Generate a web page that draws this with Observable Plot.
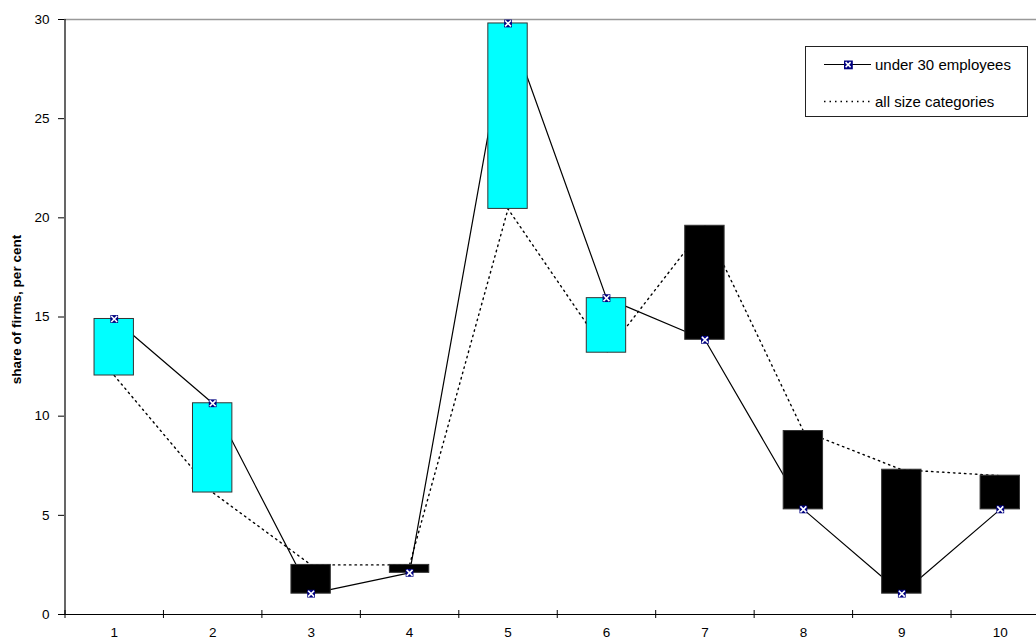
<!DOCTYPE html>
<html><head><meta charset="utf-8">
<script src="https://cdn.jsdelivr.net/npm/d3@7"></script>
<script src="https://cdn.jsdelivr.net/npm/@observablehq/plot@0.6"></script>
<style>
body{margin:0;background:#fff;}
#chart{position:relative;width:1036px;height:641px;overflow:hidden;}
#chart svg g[aria-label*="tick label"], #chart svg g[aria-label*="tick label"] text {
  font-size: 13.5px !important;
  font-family: 'Liberation Sans', Arial, sans-serif !important;
}
</style>
</head><body><div id="chart"></div>
<script>
const categories = [1, 2, 3, 4, 5, 6, 7, 8, 9, 10];
const under30 = [14.9, 10.65, 1.05, 2.1, 29.8, 15.95, 13.85, 5.3, 1.05, 5.3];
const allSizes = [12.05, 6.15, 2.5, 2.5, 20.45, 13.2, 19.6, 9.25, 7.3, 7.0];
const yTicks = [0, 5, 10, 15, 20, 25, 30];
const seriesLabels = ["under 30 employees", "all size categories"];
const yTitle = "share of firms, per cent";

const rows = categories.map((c, i) => ({cat: c, u30: under30[i], all: allSizes[i]}));
const boundaries = categories.map(c => c - 0.5).concat([categories[categories.length - 1] + 0.5]);
const font = "'Liberation Sans', Arial, sans-serif";

const plot = Plot.plot({
  width: 1036,
  height: 641,
  marginTop: 19,
  marginBottom: 27,
  marginLeft: 64,
  marginRight: 0,
  style: {fontFamily: font, fontSize: "13.5px", background: "#fff", color: "#000"},
  x: {type: "linear", domain: [boundaries[0], boundaries[boundaries.length - 1]], range: [64.5, 1049]},
  y: {domain: [0, 30], range: [614, 19]},
  color: {type: "identity"},
  marks: [
    Plot.ruleY([30], {stroke: "#999", strokeWidth: 1.5}),
    Plot.line(rows, {x: "cat", y: "all", stroke: "#000", strokeWidth: 1.4, strokeDasharray: "1.5,4"}),
    Plot.line(rows, {x: "cat", y: "u30", stroke: "#000", strokeWidth: 1.2}),
    Plot.rectY(rows, {
      x1: d => d.cat - 0.2, x2: d => d.cat + 0.2,
      y1: "all", y2: "u30",
      fill: d => d.u30 > d.all ? "#00ffff" : "#000000",
      stroke: "#333", strokeWidth: 1
    }),
    Plot.dot(rows, {x: "cat", y: "u30", symbol: "square", r: 4.4, fill: "#000080", stroke: "none"}),
    Plot.dot(rows, {x: "cat", y: "u30", symbol: "times", r: 2.8, stroke: "#fff", strokeWidth: 1.6}),
    Plot.ruleY([0], {stroke: "#000", strokeWidth: 1.2}),
    Plot.ruleX([boundaries[0]], {stroke: "#000", strokeWidth: 1.2}),
    Plot.axisY({ticks: yTicks, tickSize: 6, tickPadding: 9, label: null, fontSize: 13.5}),
    Plot.axisX({ticks: boundaries, tickSize: 8, dy: -4, tickFormat: () => "", label: null}),
    Plot.axisX({ticks: categories, tickSize: 0, tickPadding: 13, label: null, fontSize: 13.5, tickFormat: d => String(d)}),
    Plot.text([yTitle], {text: d => d, frameAnchor: "left", textAnchor: "middle", rotate: -90, dx: -47.5, dy: -7.5, fontWeight: "bold", fontSize: 13.5})
  ]
});
document.getElementById("chart").appendChild(plot);

// legend inside the plot area
const svg = d3.select(plot);
const lg = svg.append("g");
lg.append("rect").attr("x", 805.5).attr("y", 46.5).attr("width", 222).attr("height", 70)
  .attr("fill", "#fff").attr("stroke", "#222");
lg.append("line").attr("x1", 824).attr("x2", 871).attr("y1", 64.5).attr("y2", 64.5)
  .attr("stroke", "#000").attr("stroke-width", 1.2);
lg.append("rect").attr("x", 844).attr("y", 60.5).attr("width", 8.8).attr("height", 8.8).attr("fill", "#000080");
lg.append("path").attr("d", "M845.6,62.1L850.6,67.3M850.6,62.1L845.6,67.3").attr("stroke", "#fff").attr("stroke-width", 1.6);
lg.append("line").attr("x1", 824).attr("x2", 871).attr("y1", 101.5).attr("y2", 101.5)
  .attr("stroke", "#000").attr("stroke-width", 1.4).attr("stroke-dasharray", "1.5,4");
[seriesLabels[0], seriesLabels[1]].forEach((t, i) => {
  lg.append("text").attr("x", 875).attr("y", i === 0 ? 64.5 : 101.5).attr("dy", "0.35em")
    .style("font-family", font).style("font-size", "15px").style("text-anchor", "start")
    .text(t);
});
</script>
</body></html>
